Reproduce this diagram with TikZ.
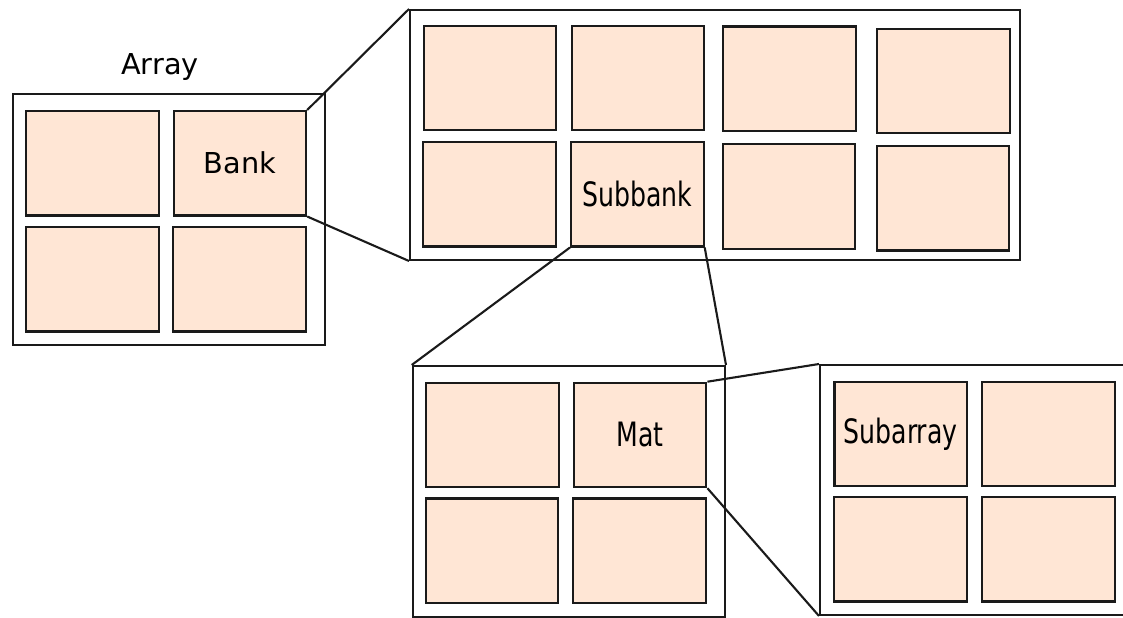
\documentclass[tikz,border=0pt]{standalone}
\usepackage{fontspec}
\setmainfont{DejaVu Sans}
\newfontfamily\narrowfont[FakeStretch=0.75]{DejaVu Sans}
\definecolor{cellfill}{HTML}{FFE6D5}
\definecolor{ink}{HTML}{1A1A1A}
\begin{document}
\begin{tikzpicture}[x=1bp,y=-1bp,
  frame/.style={draw=ink, line width=2bp, fill=white, inner sep=0pt, anchor=north west},
  cell/.style={draw=ink, line width=2.2bp, fill=cellfill, inner sep=0pt, anchor=north west,
    minimum width=132.5bp, minimum height=104.3bp},
  regtext/.style={font=\fontsize{28.9}{34}\selectfont},
  narrowtext/.style={font=\narrowfont\fontsize{33.7}{40}\selectfont},
  zoomline/.style={draw=ink, line width=2.1bp}]
\useasboundingbox (0,0) rectangle (1123,618);
\clip (0,0) rectangle (1123,618);

% Array
\node[regtext] (arraylabel) at (160,67) {Array};
\node[frame, minimum width=312bp, minimum height=251bp] (arrayframe) at (12,93) {};
\node[cell] (a11) at (25,110) {};
\node[cell, regtext] (bank) at (172.5,110) {Bank};
\node[cell] (a21) at (25,226) {};
\node[cell] (a22) at (172,226) {};

% Bank, enlarged
\node[frame, minimum width=610bp, minimum height=250bp] (bankframe) at (409,9) {};
\node[cell] (b11) at (422.5,25) {};
\node[cell] (b12) at (570.5,25) {};
\node[cell] (b13) at (722,25.5) {};
\node[cell] (b14) at (876,28) {};
\node[cell] (b21) at (422,141) {};
\node[cell, narrowtext] (subbank) at (570,141) {Subbank};
\node[cell] (b23) at (721.5,143.3) {};
\node[cell] (b24) at (875.7,145) {};

% Subbank, enlarged
\node[frame, minimum width=312.3bp, minimum height=251bp] (matframe) at (411.7,365) {};
\node[cell] (m11) at (425,381.7) {};
\node[cell, narrowtext] (mat) at (572.7,381.7) {Mat};
\node[cell] (m21) at (424.7,497.3) {};
\node[cell] (m22) at (572,497.3) {};

% Mat, enlarged
\node[frame, minimum width=340bp, minimum height=250bp] (subframe) at (819,364) {};
\node[cell, narrowtext] (subarray) at (833.3,380.7) {Subarray};
\node[cell] (s12) at (981,380.7) {};
\node[cell] (s21) at (833,496) {};
\node[cell] (s22) at (981,496) {};

% zoom connectors
\draw[zoomline] (bank.north east) -- (bankframe.north west);
\draw[zoomline] (bank.south east) -- (bankframe.south west);
\draw[zoomline] (subbank.south west) -- (matframe.north west);
\draw[zoomline] (subbank.south east) -- (matframe.north east);
\draw[zoomline] (mat.north east) -- (subframe.north west);
\draw[zoomline] (mat.south east) -- (subframe.south west);
\end{tikzpicture}
\end{document}
